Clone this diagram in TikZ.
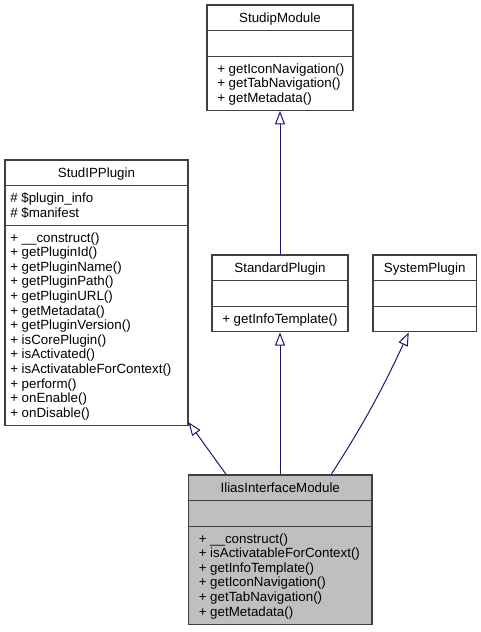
\documentclass[tikz,border=0pt]{standalone}
\usepackage{fontspec}
\setmainfont{Liberation Sans}
\usetikzlibrary{arrows.meta,fit,calc}
\definecolor{edgeblue}{HTML}{191970}
\definecolor{boxgray}{HTML}{404040}
\definecolor{curfill}{HTML}{BFBFBF}
\newcommand\umllines[4]{%
  \foreach \txtline [count=\i] in {#4} {%
    \node[txt] (#1-\i) at (#2,{#3+(\i-1)*14.58}) {\txtline};
  }}
\tikzset{
  txt/.style={anchor=base west, inner sep=0pt, font=\fontsize{10pt}{11pt}\selectfont},
  ttl/.style={anchor=base, inner sep=0pt, font=\fontsize{10pt}{11pt}\selectfont},
  umlbox/.style={draw=boxgray, line width=0.8pt, fill=white, inner sep=0pt},
  divider/.style={draw=boxgray, line width=0.8pt},
  inh/.style={draw=edgeblue, line width=0.75pt, -{Triangle[open, length=10pt, width=7.5pt]}},
}
\begin{document}
\begin{tikzpicture}[x=0.75pt,y=-0.75pt]
\useasboundingbox[fill=white] (0,0) rectangle (481,632);

% StudipModule
\node[umlbox, fit={(207,5) (353,110.4)}] (studip) {};
\draw[divider] (207,30.6) -- (353,30.6);
\draw[divider] (207,56.2) -- (353,56.2);
\node[ttl] (studip-title) at (280,22.3) {StudipModule};
\umllines{studip}{217}{73.2}{+ getIconNavigation(),+ getTabNavigation(),+ getMetadata()}

% StudIPPlugin
\node[umlbox, fit={(5,160) (188,425.2)}] (plugin) {};
\draw[divider] (5,185.6) -- (188,185.6);
\draw[divider] (5,225.2) -- (188,225.2);
\node[ttl] (plugin-title) at (96.5,177.3) {StudIPPlugin};
\umllines{pluginattr}{10}{202.6}{\# \$plugin\_info,\# \$manifest}
\umllines{plugin}{10}{242.2}{+ \_\_construct(),+ getPluginId(),+ getPluginName(),+ getPluginPath(),+ getPluginURL(),+ getMetadata(),+ getPluginVersion(),+ isCorePlugin(),+ isActivated(),+ isActivatableForContext(),+ perform(),+ onEnable(),+ onDisable()}

% StandardPlugin
\node[umlbox, fit={(212,255) (348,331.8)}] (std) {};
\draw[divider] (212,280.6) -- (348,280.6);
\draw[divider] (212,306.2) -- (348,306.2);
\node[ttl] (std-title) at (280,272.3) {StandardPlugin};
\umllines{std}{222}{323.2}{+ getInfoTemplate()}

% SystemPlugin
\node[umlbox, fit={(373,255) (476.5,331.8)}] (sys) {};
\draw[divider] (373,280.6) -- (476.5,280.6);
\draw[divider] (373,306.2) -- (476.5,306.2);
\node[ttl] (sys-title) at (424.75,272.3) {SystemPlugin};

% IliasInterfaceModule
\node[umlbox, fill=curfill, fit={(188.5,475) (372,624.4)}] (ilias) {};
\draw[divider] (188.5,500.6) -- (372,500.6);
\draw[divider] (188.5,526.2) -- (372,526.2);
\node[ttl] (ilias-title) at (280.25,492.3) {IliasInterfaceModule};
\umllines{ilias}{198.5}{543.2}{+ \_\_construct(),+ isActivatableForContext(),+ getInfoTemplate(),+ getIconNavigation(),+ getTabNavigation(),+ getMetadata()}

% inheritance connectors
\draw[inh] (std.north) -- (studip.south);
\draw[inh] (std.south |- ilias.north) -- (std.south);
\draw[inh] ($(ilias.north west)+(38.2,0)$) -- ($(plugin.south east)+(0,-3.5)$);
\draw[inh] ($(ilias.north west)+(143.2,0)$) .. controls (361.7,427) and (381.1,392) .. ($(sys.south)+(-16,0)$);
\end{tikzpicture}
\end{document}
